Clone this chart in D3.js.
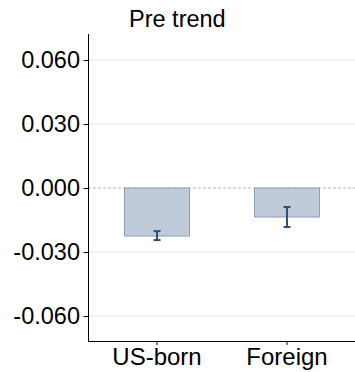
<!DOCTYPE html>
<html>
<head>
<meta charset="utf-8">
<script src="https://cdn.jsdelivr.net/npm/d3@7"></script>
<style>
  html, body { margin: 0; padding: 0; background: #fff; }
  svg { display: block; font-family: "Liberation Sans", Arial, Helvetica, sans-serif; }
</style>
</head>
<body>
<svg id="chart" width="355" height="372"></svg>
<script>
// Pre-trend estimates by group, with confidence intervals
const groups = ["US-born", "Foreign"];
const estimates = [-0.0225, -0.0136];
const ciLow = [-0.0244, -0.0183];
const ciHigh = [-0.0202, -0.0089];
const yTicks = [-0.06, -0.03, 0, 0.03, 0.06];
const title = "Pre trend";

const W = 355, H = 372;
const m = { left: 88, right: 0, top: 34, bottom: 31 };

const svg = d3.select("#chart");

const y = d3.scaleLinear()
  .domain([-0.0717, 0.0722])
  .range([H - m.bottom, m.top]);

// Band scale: the panel continues past the right edge of the page
const x = d3.scaleBand()
  .domain(groups)
  .range([59.5, 384.5])
  .paddingInner(0.5)
  .paddingOuter(0.5);

// Grid lines (non-zero)
svg.append("g")
  .selectAll("line")
  .data(yTicks.filter(d => d !== 0))
  .join("line")
  .attr("x1", m.left).attr("x2", W)
  .attr("y1", d => y(d)).attr("y2", d => y(d))
  .attr("stroke", "#e6e6e6").attr("stroke-width", 1);

// Zero reference line
svg.append("line")
  .attr("x1", m.left).attr("x2", W)
  .attr("y1", y(0)).attr("y2", y(0))
  .attr("stroke", "#b0b0b0").attr("stroke-width", 1)
  .attr("stroke-dasharray", "3,2");

// Bars
const data = groups.map((g, i) => ({ g, v: estimates[i], lo: ciLow[i], hi: ciHigh[i] }));
svg.append("g")
  .selectAll("rect")
  .data(data)
  .join("rect")
  .attr("x", d => x(d.g))
  .attr("width", x.bandwidth())
  .attr("y", d => y(Math.max(0, d.v)))
  .attr("height", d => Math.abs(y(d.v) - y(0)))
  .attr("fill", "#bfcbd8")
  .attr("stroke", "#8aa0b8")
  .attr("stroke-width", 1);

// Error bars
const eb = svg.append("g").attr("stroke", "#2b5079").attr("stroke-width", 2);
data.forEach(d => {
  const cx = x(d.g) + x.bandwidth() / 2;
  eb.append("line").attr("x1", cx).attr("x2", cx).attr("y1", y(d.lo)).attr("y2", y(d.hi));
  eb.append("line").attr("x1", cx - 3.5).attr("x2", cx + 3.5).attr("y1", y(d.lo)).attr("y2", y(d.lo));
  eb.append("line").attr("x1", cx - 3.5).attr("x2", cx + 3.5).attr("y1", y(d.hi)).attr("y2", y(d.hi));
});

// Y axis
const yAxis = svg.append("g")
  .attr("transform", `translate(${m.left},0)`)
  .call(d3.axisLeft(y).tickValues(yTicks).tickFormat(d3.format(".3f")).tickSize(5).tickPadding(4));
yAxis.select(".domain").attr("d", `M0.5,${m.top}V${H - m.bottom}`).attr("stroke", "#000");
yAxis.selectAll(".tick line").attr("stroke", "#000").attr("x1", 0.5).attr("x2", -4.5);
yAxis.selectAll(".tick text")
  .text(d => d3.format(".3f")(d).replace("−", "-"))
  .attr("x", -8)
  .attr("font-size", 23.5).attr("fill", "#000");

// X axis
const xAxis = svg.append("g")
  .attr("transform", `translate(0,${H - m.bottom})`)
  .call(d3.axisBottom(x).tickSize(4).tickPadding(3));
xAxis.select(".domain").attr("d", `M${m.left},0.5H${W}`).attr("stroke", "#000");
xAxis.selectAll(".tick line").attr("stroke", "#000");
xAxis.selectAll(".tick text").attr("font-size", 24).attr("fill", "#000");

// Title
svg.append("text")
  .attr("x", 129).attr("y", 27)
  .attr("font-size", 23.5)
  .attr("fill", "#000")
  .text(title);
</script>
</body>
</html>
